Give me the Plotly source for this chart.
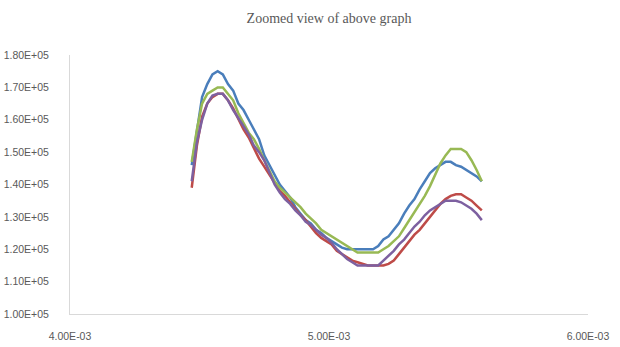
import plotly.graph_objects as go

# Sample positions (s)
x_vals = [
    0.00447, 0.00449, 0.00451, 0.00453, 0.00455, 0.00457, 0.00459, 0.00461,
    0.00463, 0.00465, 0.00467, 0.00469, 0.00471, 0.00473, 0.00475, 0.00477,
    0.00479, 0.00481, 0.00483, 0.00485, 0.00487, 0.00489, 0.00491, 0.00493,
    0.00495, 0.00497, 0.00499, 0.00501, 0.00503, 0.00505, 0.00507, 0.00509,
    0.00511, 0.00513, 0.00515, 0.00517, 0.00519, 0.00521, 0.00523, 0.00525,
    0.00527, 0.00529, 0.00531, 0.00533, 0.00535, 0.00537, 0.00539, 0.00541,
    0.00543, 0.00545, 0.00547, 0.00549, 0.00551, 0.00553, 0.00555, 0.00557,
    0.00559,
]

# Series values (thousands)
blue_k = [
    146, 156, 167, 171, 174, 175, 174, 171, 169, 165, 163, 160, 157, 154, 149, 146,
    143, 140, 138, 136, 133, 131, 129, 128, 126, 125, 123.5, 122.5, 121.5, 120.5,
    120, 120, 120, 120, 120, 120, 121, 123, 124, 126, 128, 131, 133.5, 135.5,
    138.5, 141, 143.5, 145, 146, 147, 147, 146, 145.5, 144.5, 143.5, 142.5, 141,
]
green_k = [
    147, 157, 165, 168, 169, 170, 170, 168, 166, 162, 159, 156, 154, 151, 147.5, 144,
    141, 139, 137.5, 136, 134.5, 133, 131, 129.5, 128, 126, 125, 124, 123, 122,
    121, 120, 119, 119, 119, 119, 119, 120, 121, 122.5, 124, 126.5, 129, 131.5,
    134, 136.5, 139.5, 143, 146.5, 149, 151, 151, 151, 150, 147.5, 144.5, 141,
]
red_k = [
    139, 152, 161, 165, 167, 168, 168, 166, 163.5, 160, 157, 154.5, 151, 148, 145.5, 143,
    140.5, 138, 136.5, 134.5, 132.5, 130.5, 129, 127, 125, 123.5, 122.5, 121.5, 119.5,
    118.5, 117.5, 116.5, 116, 115.5, 115, 115, 115, 115, 115.5, 116.5, 118.5, 120.5,
    122.5, 124.5, 126, 128, 130, 132, 134, 135.5, 136.5, 137, 137, 136, 135, 133.5, 132,
]
purple_k = [
    141, 153, 160, 165, 167.5, 168, 168, 166, 163, 160.5, 158, 155.5, 152, 150, 147.5, 144,
    140, 137.5, 135.5, 134, 132, 130.5, 128.5, 127.5, 126, 124.5, 123.5, 122, 120,
    118.5, 117, 116, 115, 115, 115, 115, 115, 116.5, 118, 119.5, 121.5, 123, 125, 127,
    128.5, 130.5, 132, 133, 134, 135, 135, 135, 134.5, 133.5, 132.5, 131, 129,
]

x_ticks = [0.004, 0.005, 0.006]
x_tick_text = ["4.00E-03", "5.00E-03", "6.00E-03"]
y_ticks = [100000, 110000, 120000, 130000, 140000, 150000, 160000, 170000, 180000]
y_tick_text = ["1.00E+05", "1.10E+05", "1.20E+05", "1.30E+05", "1.40E+05",
               "1.50E+05", "1.60E+05", "1.70E+05", "1.80E+05"]

series = [
    ("Series 1", blue_k, "#4A7EBB"),
    ("Series 2", red_k, "#BE4B48"),
    ("Series 3", green_k, "#98B954"),
    ("Series 4", purple_k, "#7D60A0"),
]

fig = go.Figure()
for name, vals, color in series:
    fig.add_trace(go.Scatter(
        x=x_vals,
        y=[v * 1000 for v in vals],
        mode="lines",
        name=name,
        line=dict(color=color, width=2.5),
    ))

text_color = "#595959"
axis_color = "#D9D9D9"
tick_font = dict(family="Liberation Sans, Arial, sans-serif", size=10.5, color=text_color)

fig.update_layout(
    width=620,
    height=347,
    margin=dict(l=70, r=32, t=55, b=33),
    paper_bgcolor="white",
    plot_bgcolor="white",
    showlegend=False,
    title=dict(
        text="Zoomed view of above graph",
        font=dict(family="Liberation Serif, Times New Roman, serif", size=14, color=text_color),
        x=0.5,
        xanchor="center",
        xref="paper",
        y=1 - 18 / 347,
        yref="container",
        yanchor="middle",
    ),
    xaxis=dict(
        range=[0.004, 0.006],
        tickvals=x_ticks,
        ticktext=x_tick_text,
        showgrid=False,
        zeroline=False,
        showline=True,
        linecolor=axis_color,
        linewidth=1,
        ticks="",
        ticklabelstandoff=12,
        automargin=False,
        tickfont=tick_font,
    ),
    yaxis=dict(
        range=[100000, 180000],
        tickvals=y_ticks,
        ticktext=y_tick_text,
        showgrid=False,
        zeroline=False,
        showline=True,
        linecolor=axis_color,
        linewidth=1,
        ticks="",
        ticklabelstandoff=18,
        automargin=False,
        tickfont=tick_font,
    ),
)

fig.write_html("out.html")
